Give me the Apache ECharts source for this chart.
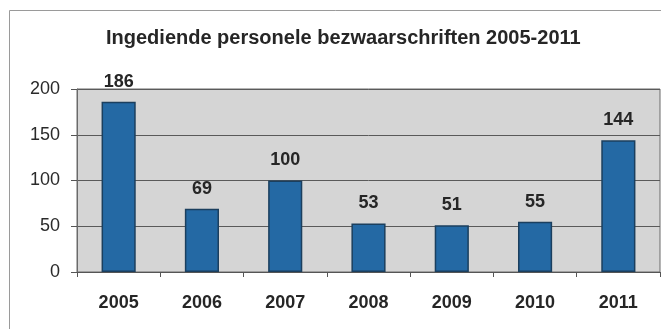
<!DOCTYPE html>
<html>
<head>
<meta charset="utf-8">
<script src="https://cdn.jsdelivr.net/npm/echarts@6/dist/echarts.min.js"></script>
<style>
  html, body { margin: 0; padding: 0; background: #ffffff; }
  #chart { width: 661px; height: 329px; }
</style>
</head>
<body>
<div id="chart"></div>
<script>
// Jaren en aantallen ingediende bezwaarschriften
const years = ['2005', '2006', '2007', '2008', '2009', '2010', '2011'];
const counts = [186, 69, 100, 53, 51, 55, 144];
const yTicks = [0, 50, 100, 150, 200];

const chart = echarts.init(document.getElementById('chart'), null, { renderer: 'canvas' });

const FONT = 'Liberation Sans, Arial, sans-serif';

chart.setOption({
  backgroundColor: '#ffffff',
  animation: false,
  title: {
    text: 'Ingediende personele bezwaarschriften 2005-2011',
    left: 101,
    top: 23,
    textStyle: {
      fontFamily: FONT,
      fontSize: 20,
      fontWeight: 'bold',
      color: '#262626'
    }
  },
  graphic: [
    {
      type: 'rect',
      shape: { x: 9.5, y: 10.5, width: 700, height: 340 },
      style: { fill: 'none', stroke: '#9a9a9a', lineWidth: 1 },
      z: -10
    }
  ],
  grid: {
    left: 77,
    right: 1,
    top: 89,
    bottom: 57,
    show: true,
    backgroundColor: '#d5d5d5',
    borderColor: '#6a6a6a',
    borderWidth: 1
  },
  xAxis: {
    type: 'category',
    data: years,
    axisLine: { show: true, lineStyle: { color: '#555555', width: 1 } },
    axisTick: { show: true, length: 5, lineStyle: { color: '#555555' } },
    axisLabel: {
      margin: 22,
      fontFamily: FONT,
      fontSize: 18,
      fontWeight: 'bold',
      color: '#262626'
    }
  },
  yAxis: {
    type: 'value',
    min: yTicks[0],
    max: yTicks[yTicks.length - 1],
    interval: yTicks[1] - yTicks[0],
    axisLine: { show: true, lineStyle: { color: '#6a6a6a' } },
    axisTick: { show: true, length: 6, lineStyle: { color: '#555555' } },
    axisLabel: {
      margin: 17,
      fontFamily: FONT,
      fontSize: 18,
      color: '#2a2a2a'
    },
    splitLine: { show: true, lineStyle: { color: '#5a5a5a', width: 1 } }
  },
  series: [
    {
      type: 'bar',
      data: counts,
      barWidth: '41%',
      itemStyle: {
        color: '#2469a4',
        borderColor: '#1b3f5e',
        borderWidth: 1.5
      },
      label: {
        show: true,
        position: 'top',
        distance: 11,
        fontFamily: FONT,
        fontSize: 18,
        fontWeight: 'bold',
        color: '#262626'
      }
    }
  ]
});
</script>
</body>
</html>
